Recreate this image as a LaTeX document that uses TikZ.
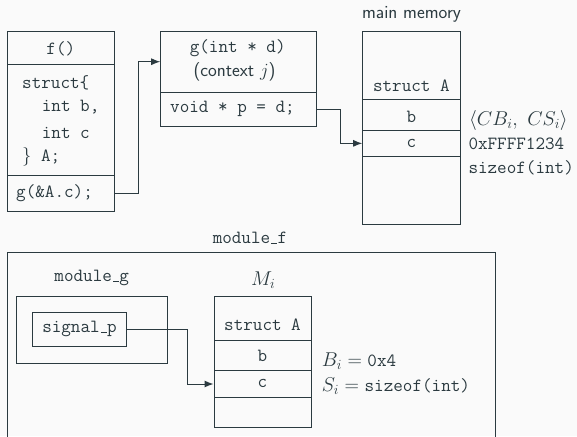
\RequirePackage{fix-cm}
\documentclass[tikz,border=0pt]{standalone}
\usepackage{fontspec}
\usetikzlibrary{arrows.meta}
\definecolor{ink}{HTML}{2B3A40}
\definecolor{paper}{HTML}{FAFAFA}
% short baseline rule used as underscore in identifiers
\newcommand\usbar{\leavevmode\kern.06em\vbox{\hrule width.32em height .05em}\kern.02em}
% monospace code set at the body size inside larger math
\newcommand\code[1]{\texttt{\fontsize{18.6}{22}\selectfont #1}}
\tikzset{
  base/.style={font=\fontsize{18.6}{22}\selectfont, text=ink},
  cell/.style={draw=ink, line width=1pt, inner sep=0pt, fill=paper},
  tt/.style={base, font=\fontsize{18.6}{22}\selectfont\ttfamily, inner sep=0pt},
  sf/.style={base, font=\fontsize{18.6}{22}\selectfont\sffamily, inner sep=0pt},
  rm/.style={base, inner sep=0pt},
  mth/.style={base, font=\fontsize{20}{24}\selectfont, inner sep=0pt},
  arr/.style={draw=ink, line width=1pt, -{Latex[length=9pt,width=7pt]}},
}
\begin{document}
\begin{tikzpicture}[x=1pt, y=-1pt]
  \fill[paper] (0,0) rectangle (577,436);
  \useasboundingbox (0,0) rectangle (577,436);

  % ---- caller f() ----
  \node[cell, minimum width=107, minimum height=32.6] (fhead) at (60.8,48) {};
  \node[cell, minimum width=107, minimum height=111.4] (fbody) at (60.8,120) {};
  \node[cell, minimum width=107, minimum height=36] (fcall) at (60.8,193.7) {};
  \node[tt] (tf) at (60.8,49) {f()};
  \node[tt, anchor=west] (ts1) at (22,83) {struct\{};
  \node[tt, anchor=west] (ts2) at (41.7,107.5) {int b,};
  \node[tt, anchor=west] (ts3) at (41.7,132.5) {int c};
  \node[tt, anchor=west] (ts4) at (22,157) {\rmfamily\}\ttfamily\ A;};
  \node[tt, anchor=west] (tcall) at (16,193) {g(\&A.c);};

  % ---- callee g() ----
  \node[cell, minimum width=156, minimum height=60.6] (ghead) at (238.7,62) {};
  \node[cell, minimum width=156, minimum height=34.4] (gbody) at (238.7,109.5) {};
  \node[tt] (tg1) at (237.7,48) {g(int * d)};
  \node[sf] (tg2) at (234.5,72) {(context $j$)};
  \node[tt, anchor=west] (tg3) at (170,108.5) {void * p = d;};

  % ---- main memory ----
  \node[sf] (lmem) at (411.5,14) {main memory};
  \node[cell, minimum width=97.3, minimum height=67.3] (mtop) at (411.35,65.35) {};
  \node[cell, minimum width=97.3, minimum height=31] (mb) at (411.35,114.5) {};
  \node[cell, minimum width=97.3, minimum height=26.7] (mc) at (411.35,143.35) {};
  \node[cell, minimum width=97.3, minimum height=67.3] (mbot) at (411.35,190.35) {};
  \node[tt] (tmA) at (411.35,86) {struct A};
  \node[tt] (tmb) at (411.35,117) {b};
  \node[tt] (tmc) at (411.35,143.3) {c};
  \node[mth, anchor=west] (tcap) at (469,120.7) {$\langle CB_i,\ CS_i\rangle$};
  \node[tt, anchor=west] (taddr) at (468.3,144) {0xFFFF1234};
  \node[tt, anchor=west] (tsize) at (468.3,167.7) {sizeof(int)};

  % ---- connectors (top) ----
  \draw[arr] (fcall.east) -- ++(23.4,0) |- (ghead.west |- 0,61.7);
  \draw[arr] (gbody.east) -- ++(23.3,0) |- (mc.west);

  % ---- module_f ----
  \node[tt] (lmf) at (250,238.3) {module\usbar f};
  \draw[ink, line width=1pt] (7.3,470) -- (7.3,252.7) -- (495.7,252.7) -- (495.7,470);

  % ---- module_g ----
  \node[tt] (lmg) at (91.7,278.3) {module\usbar g};
  \node[cell, minimum width=151, minimum height=67.3] (mg) at (92.2,329.65) {};
  \node[cell, minimum width=94.4, minimum height=33.3] (sig) at (79.5,329.35) {};
  \node[tt] (tsig) at (79.5,329.3) {signal\usbar p};

  % ---- shadow copy M_i ----
  \node[mth] (lMi) at (263.3,280) {$M_i$};
  \node[cell, minimum width=97, minimum height=44] (itop) at (262.5,318.7) {};
  \node[cell, minimum width=97, minimum height=30] (ib) at (262.5,355.7) {};
  \node[cell, minimum width=97, minimum height=26.6] (ic) at (262.5,384) {};
  \node[cell, minimum width=97, minimum height=30.4] (ibot) at (262.5,412.5) {};
  \node[tt] (tiA) at (262.5,325) {struct A};
  \node[tt] (tib) at (262.5,356) {b};
  \node[tt] (tic) at (262.5,383.3) {c};
  \node[mth, anchor=west] (tBi) at (321.7,361) {$B_i = \code{0x4}$};
  \node[mth, anchor=west] (tSi) at (321.7,385.7) {$S_i = \code{sizeof(int)}$};

  \draw[arr] (sig.east) -- ++(60.6,0) |- (ic.west);
\end{tikzpicture}
\end{document}
